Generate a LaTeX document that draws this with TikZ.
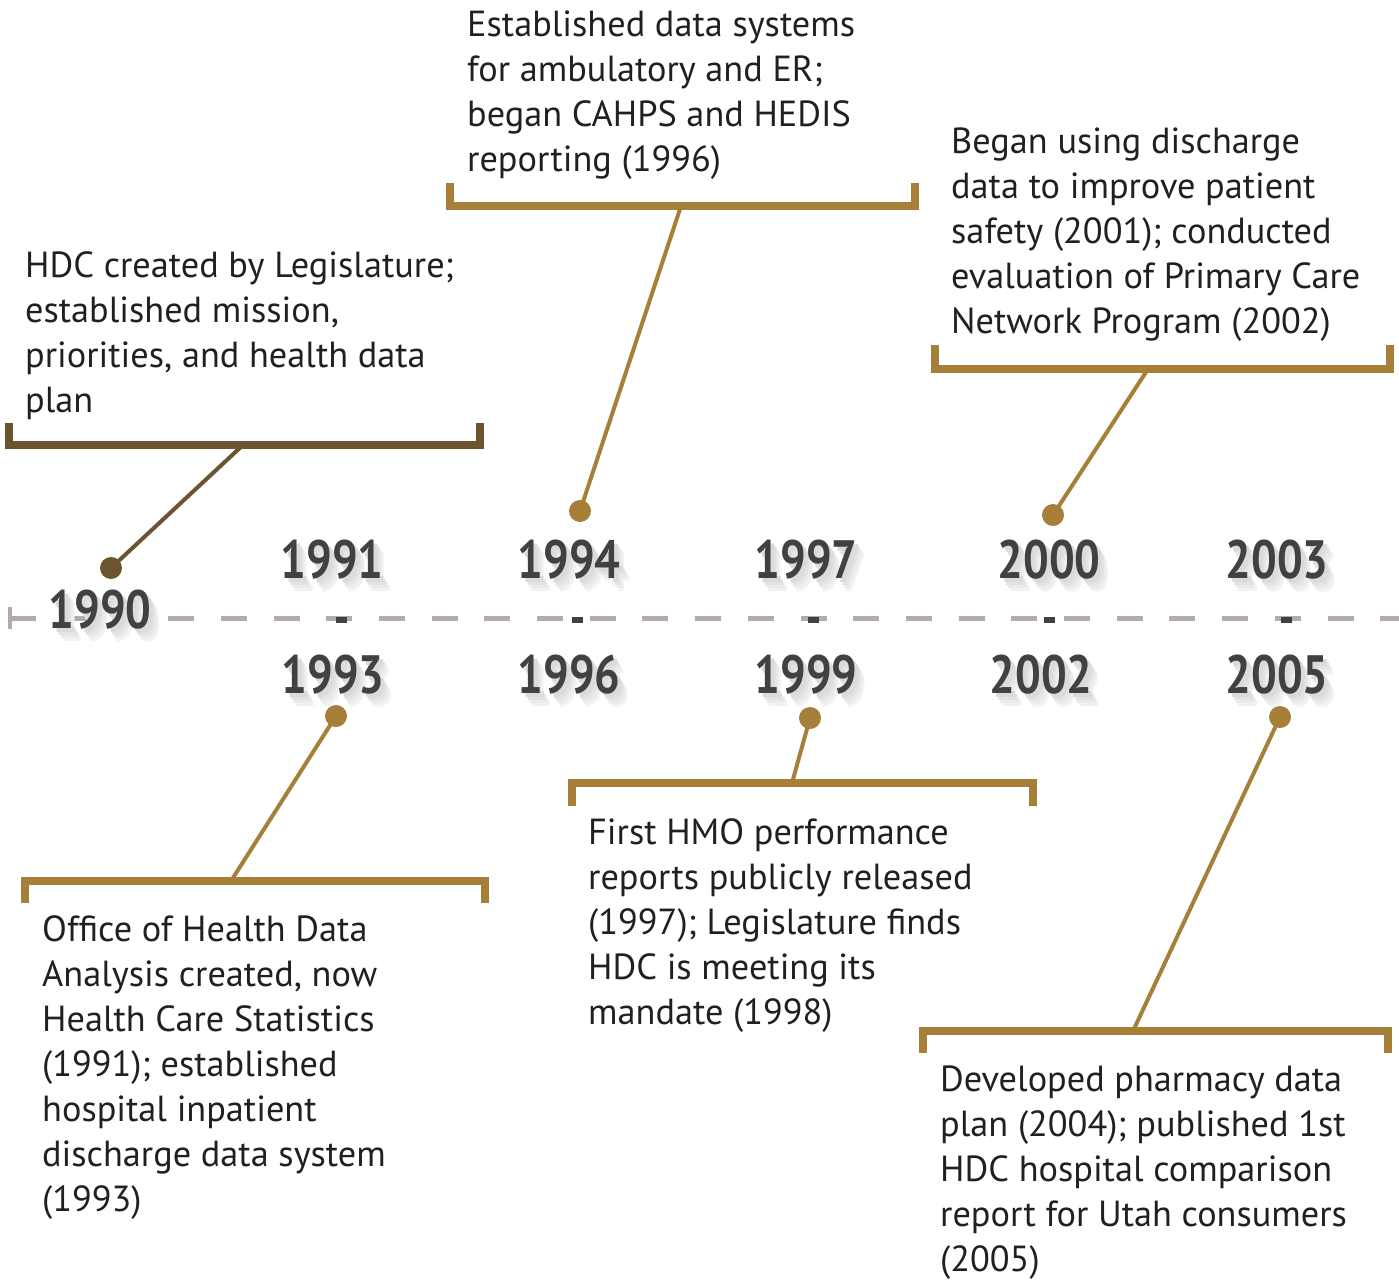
\documentclass[tikz,border=0pt]{standalone}
\usepackage{fontspec}
\setmainfont{PT Sans}
\usetikzlibrary{positioning}

\definecolor{gold}{HTML}{A67F38}
\definecolor{umber}{HTML}{6B5430}
\definecolor{axisgray}{HTML}{B4AAAA}
\definecolor{yearink}{HTML}{414042}
\definecolor{ink}{HTML}{231F20}

\newcommand{\narrow}[1]{\scalebox{0.84}[1]{#1}}
% soft shadow copy, kept out of the box size
\newcommand{\shade}[4]{\rlap{\smash{\hspace{#1}\raisebox{#2}{\textcolor{#3}{\narrow{#4}}}}}}
\newcommand{\shadowed}[1]{%
  \shade{10pt}{-13pt}{black!5}{#1}\shade{8pt}{-10pt}{black!8}{#1}%
  \shade{6pt}{-7pt}{black!11}{#1}\shade{4pt}{-4pt}{black!14}{#1}\narrow{#1}}

\begin{document}
\begin{tikzpicture}[x=1pt,y=-1pt]
\tikzstyle{blurb}=[anchor=north west, inner sep=0pt, align=left, text=ink,
                   font=\fontsize{36.3}{45}\selectfont]
\tikzstyle{year}=[inner sep=0pt, text=yearink, font=\fontsize{54}{54}\selectfont\bfseries]
\tikzstyle{bracket}=[draw=gold, line width=8pt, miter limit=10]
\tikzstyle{stem}=[draw=gold, line width=4pt]
\tikzstyle{dot}=[circle, fill=gold, inner sep=0pt, minimum size=22pt]
\tikzstyle{tick}=[rectangle, fill=yearink, inner sep=0pt, minimum width=11pt, minimum height=6pt]
\useasboundingbox (0,0) rectangle (1399,1281);

% time axis
\coordinate (axl) at (10,618);
\coordinate (axr) at (1399,618);
\draw[axisgray, line width=4pt] (10,607) -- (10,629);
\draw[axisgray, line width=5pt, dash pattern=on 26pt off 26.7pt] (axl) -- (axr);
\foreach \x [count=\i] in {341,577,813,1049,1286}
  \node[tick] (t\i) at (\x,620) {};

% years
\node[year] (y1990) at (100,610) {\shadowed{1990}};
\node[year] (y1991) at (332,560) {\shadowed{1991}};
\node[year] (y1994) at (569,560) {\shadowed{1994}};
\node[year] (y1997) at (806,560) {\shadowed{1997}};
\node[year] (y2000) at (1049,560) {\shadowed{2000}};
\node[year] (y2003) at (1277,560) {\shadowed{2003}};
\node[year] (y1993) at (333,675) {\shadowed{1993}};
\node[year] (y1996) at (569,675) {\shadowed{1996}};
\node[year] (y1999) at (806,675) {\shadowed{1999}};
\node[year] (y2002) at (1041,675) {\shadowed{2002}};
\node[year] (y2005) at (1277,675) {\shadowed{2005}};

% brackets
\draw[bracket, draw=umber] (9,423) -- (9,445) -- (480,445) -- (480,423);
\draw[bracket] (450,183) -- (450,206) -- (915,206) -- (915,183);
\draw[bracket] (935,345) -- (935,369) -- (1390,369) -- (1390,345);
\draw[bracket] (25,903) -- (25,881) -- (485,881) -- (485,903);
\draw[bracket] (572,806) -- (572,783) -- (1033,783) -- (1033,806);
\draw[bracket] (923,1053) -- (923,1031) -- (1388,1031) -- (1388,1053);
\coordinate (j1990) at (243,445);
\coordinate (j1994) at (681,206);
\coordinate (j2000) at (1148,369);
\coordinate (j1993) at (231,881);
\coordinate (j1999) at (792,783);
\coordinate (j2005) at (1133,1031);

% dots and stems
\node[dot, fill=umber] (d1990) at (111,568) {};
\node[dot] (d1994) at (580,511) {};
\node[dot] (d2000) at (1053,515) {};
\node[dot] (d1993) at (336,716) {};
\node[dot] (d1999) at (810,718) {};
\node[dot] (d2005) at (1280,717) {};
\path[stem, draw=umber] (d1990.center) -- (j1990);
\path[stem] (d1994.center) -- (j1994)
            (d2000.center) -- (j2000)
            (d1993.center) -- (j1993)
            (d1999.center) -- (j1999)
            (d2005.center) -- (j2005);

% texts
\node[blurb] (b1990) at (25,251) {HDC created by Legislature;\\established mission,\\priorities, and health data\\plan};
\node[blurb] (b1994) at (467,11) {Established data systems\\for ambulatory and ER;\\began CAHPS and HEDIS\\reporting (1996)};
\node[blurb] (b2000) at (951,128) {Began using discharge\\data to improve patient\\safety (2001); conducted\\evaluation of Primary Care\\Network Program (2002)};
\node[blurb] (b1993) at (42,915) {Office of Health Data\\Analysis created, now\\Health Care Statistics\\(1991); established\\hospital inpatient\\discharge data system\\(1993)};
\node[blurb] (b1999) at (588,818) {First HMO performance\\reports publicly released\\(1997); Legislature finds\\HDC is meeting its\\mandate (1998)};
\node[blurb] (b2005) at (940,1066) {Developed pharmacy data\\plan (2004); published 1st\\HDC hospital comparison\\report for Utah consumers\\(2005)};
\end{tikzpicture}
\end{document}
